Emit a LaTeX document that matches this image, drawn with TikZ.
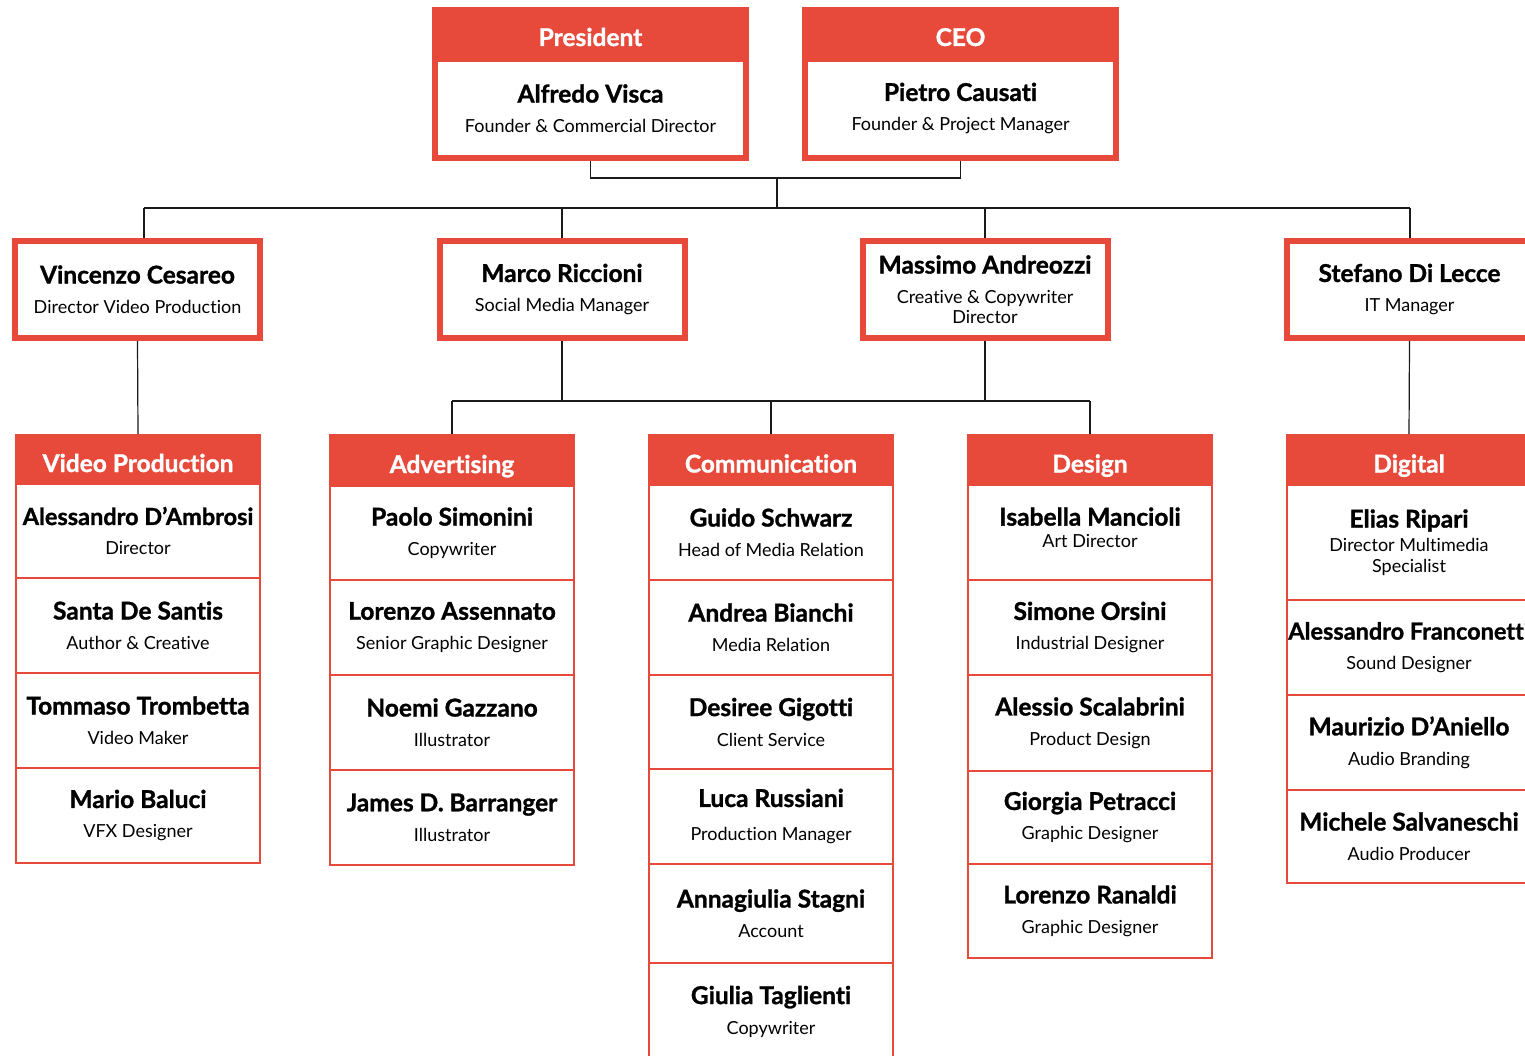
\documentclass[tikz,border=0pt]{standalone}
\usepackage{fontspec}
\setmainfont{Lato}[Ligatures=NoCommon, BoldFeatures={FakeBold=1.2}]
\definecolor{ored}{HTML}{E74A3B}
\definecolor{ink}{HTML}{1A1A1A}
\newcommand\nm[1]{{\fontsize{24.5}{21}\selectfont\bfseries #1}}
\newcommand\nmx[2]{\makebox[200pt]{\fontsize{#1}{21}\selectfont\bfseries #2}}
\newcommand\tl[1]{{\fontsize{18}{21}\selectfont #1}}
\newcommand\pp[3][9pt]{\nm{#2}\\[#1]\tl{#3}}
\begin{document}
\begin{tikzpicture}[x=1pt,y=-1pt,
  conn/.style={draw=ink, line width=1.2},
  tophead/.style={fill=ored, minimum width=317, minimum height=53, inner sep=0,
    text=white, font=\fontsize{24.5}{25}\selectfont\bfseries, text height=25, text depth=0},
  topbody/.style={draw=ored, line width=6, fill=white, minimum width=311, minimum height=99,
    inner sep=0, align=center, font=\fontsize{18}{21}\selectfont},
  mgr/.style={draw=ored, line width=6, fill=white, minimum width=245, minimum height=97,
    inner sep=0, align=center, font=\fontsize{18}{21}\selectfont},
  depthead/.style={fill=ored, draw=ored, line width=2, minimum width=244, inner sep=0,
    text=white, font=\fontsize{24.5}{25}\selectfont\bfseries, text height=25, text depth=0},
  member/.style={draw=ored, line width=2, fill=white, minimum width=244, inner sep=0,
    align=center, font=\fontsize{18}{21}\selectfont},
]
\useasboundingbox (0,0) rectangle (1525,1056);
\fill[white] (0,0) rectangle (1525,1056);
\clip (0,0) rectangle (1525,1056);

% ---- top level
\node[tophead] (presh) at (590.5,33.5) {President};
\node[topbody] (pres) at (590.5,108.5) {\pp{Alfredo Visca}{Founder \& Commercial Director}};
\node[tophead] (ceoh) at (960.5,33.5) {CEO};
\node[topbody] (ceo) at (960.5,108.5) {\pp{Pietro Causati}{Founder \& Project Manager}};

% ---- managers
\node[mgr] (vin) at (137.5,289.5) {\pp{Vincenzo Cesareo}{Director Video Production}};
\node[mgr] (mar) at (562,289.5) {\pp{Marco Riccioni}{Social Media Manager}};
\node[mgr] (mas) at (985,289.5) {\nm{Massimo Andreozzi}\\[9pt]\tl{Creative \& Copywriter}\\[-1pt]\tl{Director}};
\node[mgr] (ste) at (1409.5,289.5) {\pp{Stefano Di Lecce}{IT Manager}};

% ---- Video Production
\node[depthead, minimum height=49] (hvp) at (138,459.5) {Video Production};
\node[member, minimum height=94] (vp1) at (138,531) {\nmx{23.5}{Alessandro D’Ambrosi}\\[9pt]\tl{Director}};
\node[member, minimum height=95] (vp2) at (138,625.5) {\pp{Santa De Santis}{Author \& Creative}};
\node[member, minimum height=95] (vp3) at (138,720.5) {\pp{Tommaso Trombetta}{Video Maker}};
\node[member, minimum height=95] (vp4) at (138,815.5) {\pp{Mario Baluci}{VFX Designer}};

% ---- Advertising
\node[depthead, minimum height=51] (hadv) at (452,460.5) {Advertising};
\node[member, minimum height=94] (ad1) at (452,533) {\pp{Paolo Simonini}{Copywriter}};
\node[member, minimum height=95] (ad2) at (452,627.5) {\pp{Lorenzo Assennato}{Senior Graphic Designer}};
\node[member, minimum height=95] (ad3) at (452,722.5) {\pp{Noemi Gazzano}{Illustrator}};
\node[member, minimum height=95] (ad4) at (452,817.5) {\pp{James D. Barranger}{Illustrator}};

% ---- Communication
\node[depthead, minimum height=50] (hcom) at (771,460) {Communication};
\node[member, minimum height=95] (co1) at (771,532.5) {\pp{Guido Schwarz}{Head of Media Relation}};
\node[member, minimum height=95] (co2) at (771,627.5) {\pp{Andrea Bianchi}{Media Relation}};
\node[member, minimum height=94] (co3) at (771,722) {\pp{Desiree Gigotti}{Client Service}};
\node[member, minimum height=95] (co4) at (771,816.5) {\pp[13pt]{Luca Russiani}{Production Manager}};
\node[member, minimum height=99] (co5) at (771,913.5) {\pp{Annagiulia Stagni}{Account}};
\node[member, minimum height=97] (co6) at (771,1011.5) {\pp{Giulia Taglienti}{Copywriter}};

% ---- Design
\node[depthead, minimum height=50] (hdes) at (1090,460) {Design};
\node[member, minimum height=95] (de1) at (1090,532.5) {\pp[1pt]{Isabella Mancioli}{Art Director}\\[-11pt]\rule{0pt}{8pt}};
\node[member, minimum height=95] (de2) at (1090,627.5) {\pp{Simone Orsini}{Industrial Designer}};
\node[member, minimum height=96] (de3) at (1090,723) {\pp{Alessio Scalabrini}{Product Design}};
\node[member, minimum height=93] (de4) at (1090,817.5) {\pp{Giorgia Petracci}{Graphic Designer}};
\node[member, minimum height=94] (de5) at (1090,911) {\pp{Lorenzo Ranaldi}{Graphic Designer}};

% ---- Digital
\node[depthead, minimum height=50] (hdig) at (1409,460) {Digital};
\node[member, minimum height=115] (di1) at (1409,542.5) {\nm{Elias Ripari}\\[3pt]\tl{Director Multimedia}\\\tl{Specialist}};
\node[member, minimum height=95] (di2) at (1409,647.5) {\nmx{23.5}{Alessandro Franconetti}\\[9pt]\tl{Sound Designer}};
\node[member, minimum height=95] (di3) at (1409,742.5) {\pp{Maurizio D’Aniello}{Audio Branding}};
\node[member, minimum height=93] (di4) at (1409,836.5) {\pp{Michele Salvaneschi}{Audio Producer}};

% ---- connectors
\coordinate (tj) at (777,178);
\coordinate (bl) at (144,208);
\coordinate (br) at (1410,208);
\coordinate (ml) at (452,401);
\coordinate (mr) at (1090,401);
\draw[conn] (pres.south) |- (tj) -| (ceo.south);
\draw[conn] (tj) -- (tj |- bl);
\draw[conn] (bl) -- (br);
\draw[conn] (bl) -- (bl |- vin.north);
\draw[conn] (mar.north |- bl) -- (mar.north);
\draw[conn] (mas.north |- bl) -- (mas.north);
\draw[conn] (br) -- (br |- ste.north);
\draw[conn] (vin.south) -- (hvp.north);
\draw[conn] (mar.south) -- (mar.south |- ml);
\draw[conn] (mas.south) -- (mas.south |- ml);
\draw[conn] (ml) -- (mr);
\draw[conn] (ml) -- (hadv.north);
\draw[conn] (hcom.north |- ml) -- (hcom.north);
\draw[conn] (mr) -- (hdes.north);
\draw[conn] (ste.south) -- (hdig.north);
\end{tikzpicture}
\end{document}
